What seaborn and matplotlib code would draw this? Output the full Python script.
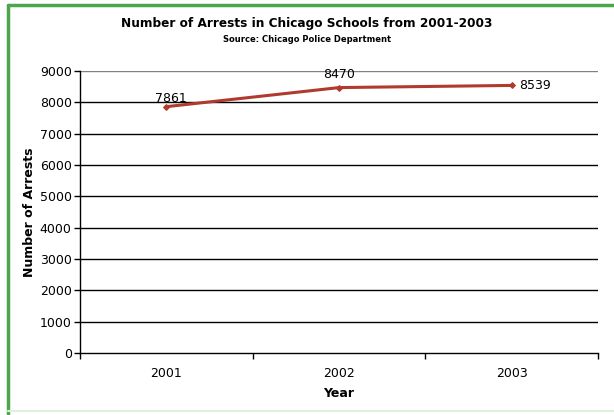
import matplotlib
matplotlib.use("Agg")
import matplotlib.pyplot as plt
import seaborn as sns
import pandas as pd
from matplotlib.lines import Line2D

years = ["2001", "2002", "2003"]
arrests = [7861, 8470, 8539]
yticks = [0, 1000, 2000, 3000, 4000, 5000, 6000, 7000, 8000, 9000]

sns.set_style("white")
plt.rcParams['font.family'] = ['DejaVu Sans']
plt.rcParams['text.color'] = 'black'
plt.rcParams['axes.labelcolor'] = 'black'
plt.rcParams['xtick.color'] = 'black'
plt.rcParams['ytick.color'] = 'black'

df = pd.DataFrame({"pos": list(range(len(years))), "Arrests": arrests})

fig = plt.figure(figsize=(6.14, 4.15), dpi=100)
ax = fig.add_axes([0.1303, 0.149, 0.8437, 0.680])

for v in yticks[1:]:
    ax.axhline(v, color="#808080" if v == 9000 else "black", lw=1.0, zorder=1)

sns.lineplot(data=df, x="pos", y="Arrests", ax=ax, color="#B03A2E", lw=2.2,
             marker="D", markersize=3, markeredgecolor="#B03A2E", zorder=3)

offsets = [(-8, 1, "left", "bottom"), (0, 5, "center", "bottom"), (5, 0, "left", "center")]
for i, (v, off) in enumerate(zip(arrests, offsets)):
    ax.annotate(str(v), (i, v), xytext=(off[0], off[1]), textcoords="offset points",
                ha=off[2], va=off[3], fontsize=9, color="black")

ax.set_xlim(-0.5, 2.5)
ax.set_ylim(0, 9000)
ax.set_yticks(yticks)
ax.set_yticklabels([str(t) for t in yticks], fontsize=9)
ax.set_xticks([-0.5, 0.5, 1.5, 2.5])
ax.set_xticklabels([])
ax.set_xticks(range(3), minor=True)
ax.set_xticklabels(years, minor=True, fontsize=9)
ax.tick_params(axis="x", which="major", direction="out", length=4, color="black", width=1, bottom=True)
ax.tick_params(axis="x", which="minor", length=0, pad=10, bottom=True)
ax.tick_params(axis="y", direction="out", length=4, color="black", width=1, pad=2, left=True)
for s in ["top", "right"]:
    ax.spines[s].set_visible(False)
for s in ["left", "bottom"]:
    ax.spines[s].set_color("black")
    ax.spines[s].set_linewidth(1)

ax.set_xlabel("Year", fontsize=9, fontweight="bold", labelpad=5)
ax.set_ylabel("Number of Arrests", fontsize=9, fontweight="bold", labelpad=3)

fig.text(0.5, 0.943, "Number of Arrests in Chicago Schools from 2001-2003",
         ha="center", va="center", fontsize=8.7, fontweight="bold")
fig.text(0.5, 0.906, "Source: Chicago Police Department",
         ha="center", va="center", fontsize=6, fontweight="bold")

# green border
fig.add_artist(Line2D([8/614, 8/614], [0, 1 - 5/415], transform=fig.transFigure, color="#4CA64C", lw=2.5))
fig.add_artist(Line2D([8/614, 1], [1 - 5/415, 1 - 5/415], transform=fig.transFigure, color="#4CA64C", lw=2.5))
fig.add_artist(Line2D([8/614, 1], [1 - 411/415, 1 - 411/415], transform=fig.transFigure, color="#DDF2DD", lw=1.5))

fig.savefig("out.png", dpi=100)
